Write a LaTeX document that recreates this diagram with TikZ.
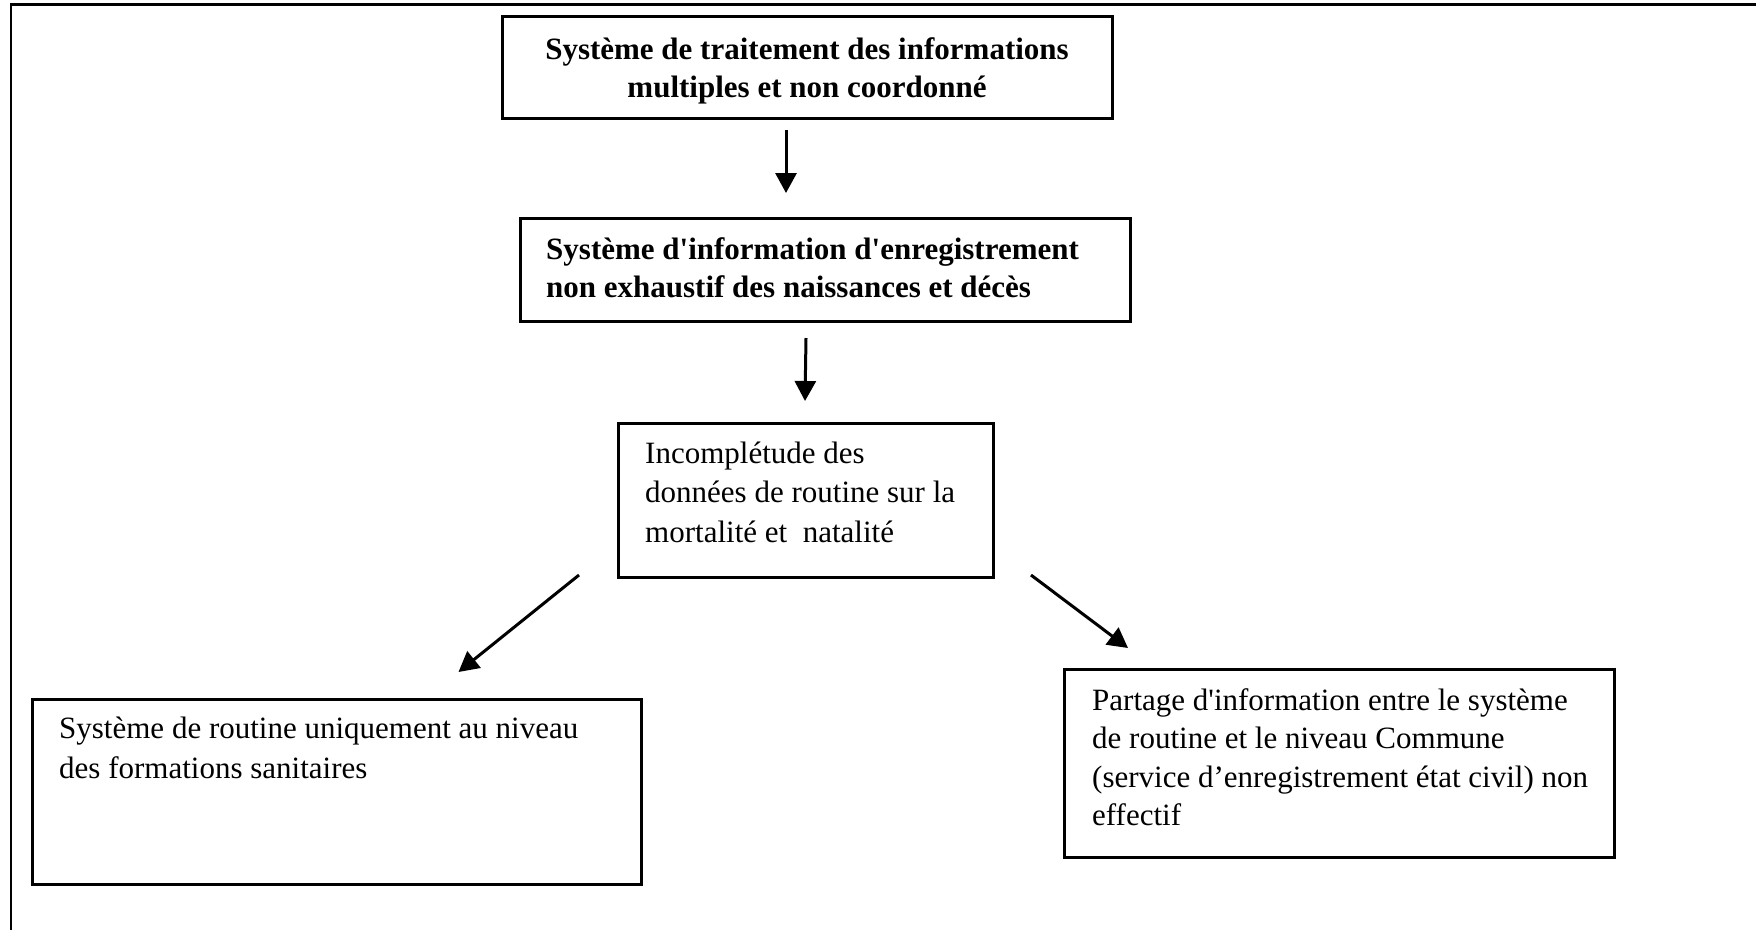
\documentclass[tikz,border=0pt]{standalone}
\usepackage{fontspec}
\setmainfont{Liberation Serif}
\usetikzlibrary{arrows.meta}
\newcommand\sqt{\textquotesingle}
% stacked lines whose reference point is the baseline of the first line
\newcommand\leftlines[1]{\begin{tabular}[t]{@{}l@{}}#1\end{tabular}}
\newcommand\centerlines[1]{\begin{tabular}[t]{@{}c@{}}#1\end{tabular}}
\begin{document}
\begin{tikzpicture}[x=1pt,y=-1pt,
  box/.style={draw, line width=3pt, inner sep=0pt, outer sep=0pt, anchor=north west},
  txt/.style={anchor=base west, inner sep=0pt},
  arr/.style={line width=3pt, -{Triangle[length=20pt,width=21pt]}},
  frame/.style={line width=2.5pt}]
\useasboundingbox (0,0) rectangle (1756,930);

% page frame (top and left edges)
\draw[frame] (11,930) -- (11,4.5) -- (1756,4.5);

% boxes
\node[box, minimum width=610pt, minimum height=102pt] (b1) at (502,16) {};
\node[box, minimum width=610pt, minimum height=103pt] (b2) at (520,218) {};
\node[box, minimum width=375pt, minimum height=154pt] (b3) at (618,423) {};
\node[box, minimum width=609pt, minimum height=185pt] (b4) at (32,699) {};
\node[box, minimum width=550pt, minimum height=188pt] (b5) at (1064,669) {};

% box texts
\node[txt, anchor=base, font=\bfseries\fontsize{31}{38}\selectfont] (t1) at (807,59)
  {\centerlines{Système de traitement des informations\\multiples et non coordonné}};
\node[txt, font=\bfseries\fontsize{31}{38.5}\selectfont] (t2) at (546,259)
  {\leftlines{Système d\sqt information d\sqt enregistrement\\non exhaustif des naissances et décès}};
\node[txt, font=\fontsize{31}{39.5}\selectfont] (t3) at (645,463)
  {\leftlines{Incomplétude des\\données de routine sur la\\mortalité et\ \ natalité}};
\node[txt, font=\fontsize{31}{40}\selectfont] (t4) at (59,738)
  {\leftlines{Système de routine uniquement au niveau\\des formations sanitaires}};
\node[txt, font=\fontsize{31}{38.5}\selectfont] (t5) at (1092,710)
  {\leftlines{Partage d\sqt information entre le système\\de routine et le niveau Commune\\(service d’enregistrement état civil) non\\effectif}};

% connectors
\draw[arr] ([xshift=-21pt,yshift=-12pt]b1.south) -- ([xshift=-39pt,yshift=25pt]b2.north);
\draw[arr] ([xshift=-19pt,yshift=-17pt]b2.south) -- ([xshift=-0.5pt,yshift=22pt]b3.north);
\draw[arr] ([xshift=-39pt,yshift=2pt]b3.south west) -- ([xshift=122pt,yshift=27pt]b4.north);
\draw[arr] ([xshift=38pt,yshift=2pt]b3.south east) -- ([xshift=-211pt,yshift=21pt]b5.north);
\end{tikzpicture}
\end{document}
